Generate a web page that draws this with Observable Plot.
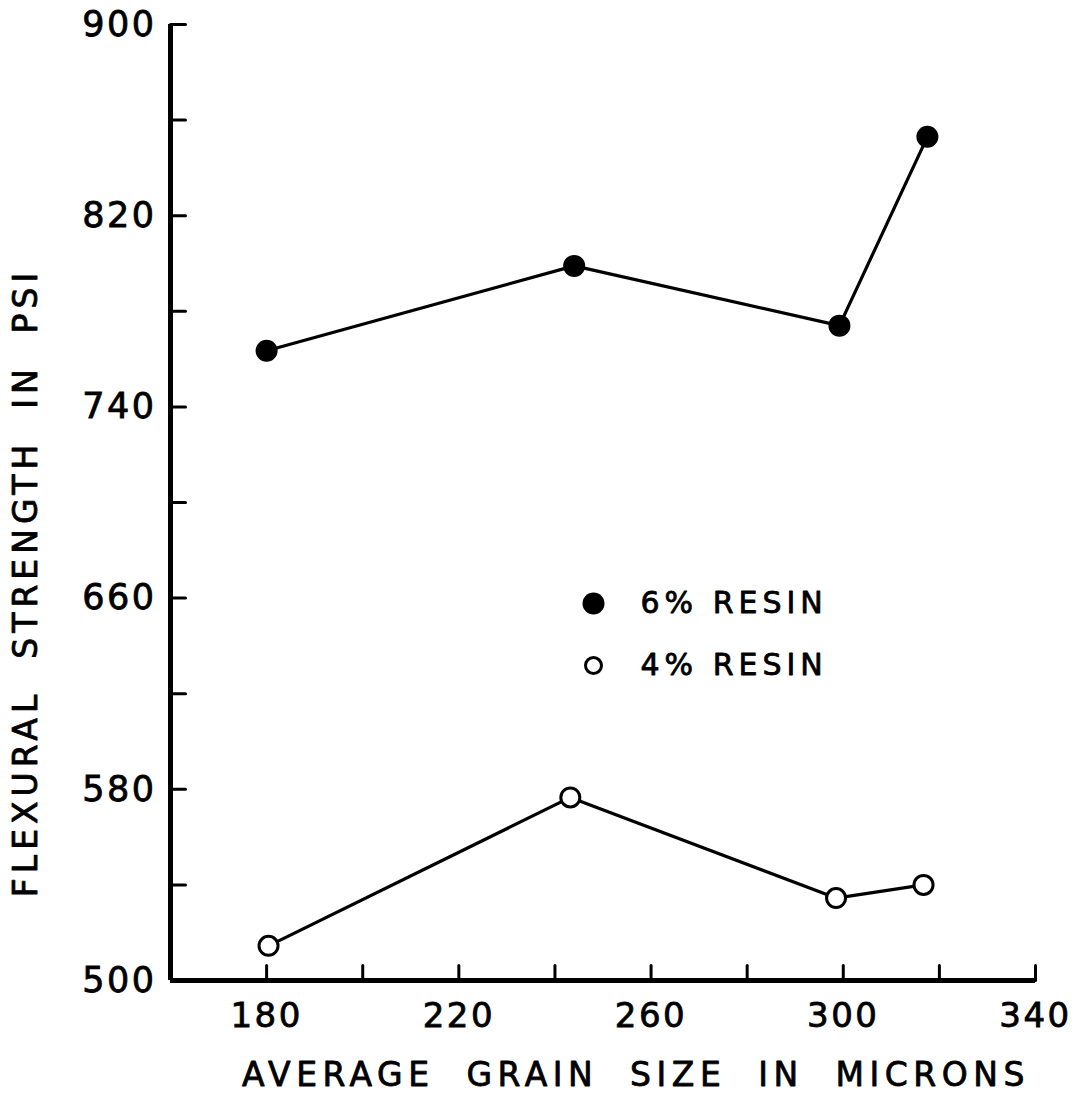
<!DOCTYPE html>
<html>
<head>
<meta charset="utf-8">
<script src="https://cdn.jsdelivr.net/npm/d3@7"></script>
<script src="https://cdn.jsdelivr.net/npm/@observablehq/plot@0.6"></script>
<style>
  html, body { margin: 0; padding: 0; background: #fff; }
  svg text { white-space: pre; }
  text[aria-label="axis-title"] { letter-spacing: 5.5px; }
  text[aria-label="axis-title-y"] { letter-spacing: 5px; }
  [aria-label="y-axis tick label"] text, [aria-label="x-axis tick label"] text { letter-spacing: 2.5px; stroke: #000; stroke-width: 0.8px; }
  text[aria-label="legend-text"] { letter-spacing: 5px; }
</style>
</head>
<body>
<div id="chart"></div>
<script>
// Series: 6% resin (filled dots)
const resin6Size = [180, 244, 299.2, 317.5];
const resin6Strength = [763.5, 799, 774, 853];
// Series: 4% resin (open circles)
const resin4Size = [180.4, 243.2, 298.5, 316.7];
const resin4Strength = [514.5, 576.6, 534.5, 540];
// Axis ticks
const xTickLabels = [180, 220, 260, 300, 340];
const xMinorTicks = [180, 200, 220, 240, 260, 280, 300, 320, 340];
const yTickLabels = [500, 580, 660, 740, 820, 900];
const yMinorTicks = [540, 580, 620, 660, 700, 740, 780, 820, 860, 900];
const xTitle = "AVERAGE  GRAIN  SIZE  IN  MICRONS";
const yTitle = "FLEXURAL  STRENGTH  IN  PSI";
const legendLabels = ["6% RESIN", "4% RESIN"];

const s6 = resin6Size.map((x, i) => ({x, y: resin6Strength[i]}));
const s4 = resin4Size.map((x, i) => ({x, y: resin4Strength[i]}));

const font = "DejaVu Sans, sans-serif";
const tickShape = {draw(context, l) { context.moveTo(0, 0); context.lineTo(0, -l); }};

const chart = Plot.plot({
  width: 1087,
  height: 1100,
  marginLeft: 170,
  marginRight: 52,
  marginTop: 24,
  marginBottom: 120,
  style: {fontFamily: font, background: "#fff", color: "#000"},
  x: {domain: [160, 340]},
  y: {domain: [500, 900]},
  marks: [
    // axis lines
    Plot.ruleY([500], {x1: 160, x2: 340, stroke: "#000", strokeWidth: 5}),
    Plot.ruleX([160], {y1: 500, y2: 900, stroke: "#000", strokeWidth: 5}),
    // inward ticks
    Plot.vector(xMinorTicks, {x: d => d, y: 500, length: 15, rotate: 0, anchor: "start", shape: tickShape, stroke: "#000", strokeWidth: 3}),
    Plot.vector(yMinorTicks, {x: 160, y: d => d, length: 15, rotate: 90, anchor: "start", shape: tickShape, stroke: "#000", strokeWidth: 3}),
    // tick labels
    Plot.axisX({ticks: xTickLabels, tickSize: 0, tickPadding: 22, fontSize: 34, label: null}),
    Plot.axisY({ticks: yTickLabels, tickSize: 0, tickPadding: 14, fontSize: 35, label: null}),
    // axis titles
    Plot.text([xTitle], {text: d => d, frameAnchor: "bottom", dx: 33, dy: 95, fontSize: 33, textAnchor: "middle", lineAnchor: "middle", ariaLabel: () => "axis-title", fill: "#000", stroke: "#000", strokeWidth: 0.8}),
    Plot.text([yTitle], {text: d => d, frameAnchor: "left", dx: -144, dy: 80, rotate: -90, fontSize: 33, textAnchor: "middle", lineAnchor: "middle", ariaLabel: () => "axis-title-y", fill: "#000", stroke: "#000", strokeWidth: 0.8}),
    // data
    Plot.line(s6, {x: "x", y: "y", stroke: "#000", strokeWidth: 3.2}),
    Plot.line(s4, {x: "x", y: "y", stroke: "#000", strokeWidth: 3.2}),
    Plot.dot(s6, {x: "x", y: "y", r: 11, fill: "#000", stroke: "none"}),
    Plot.dot(s4, {x: "x", y: "y", r: 9.5, fill: "#fff", stroke: "#000", strokeWidth: 3}),
    // legend
    Plot.dot([legendLabels[0]], {frameAnchor: "top-left", dx: 423, dy: 579, r: 11, fill: "#000"}),
    Plot.dot([legendLabels[1]], {frameAnchor: "top-left", dx: 423, dy: 641, r: 8, fill: "#fff", stroke: "#000", strokeWidth: 3}),
    Plot.text([legendLabels[0]], {text: d => d, frameAnchor: "top-left", dx: 470, dy: 579, fontSize: 30, textAnchor: "start", lineAnchor: "middle", ariaLabel: () => "legend-text", fill: "#000", stroke: "#000", strokeWidth: 0.8}),
    Plot.text([legendLabels[1]], {text: d => d, frameAnchor: "top-left", dx: 470, dy: 641, fontSize: 30, textAnchor: "start", lineAnchor: "middle", ariaLabel: () => "legend-text", fill: "#000", stroke: "#000", strokeWidth: 0.8})
  ]
});
document.getElementById("chart").appendChild(chart);
</script>
</body>
</html>
